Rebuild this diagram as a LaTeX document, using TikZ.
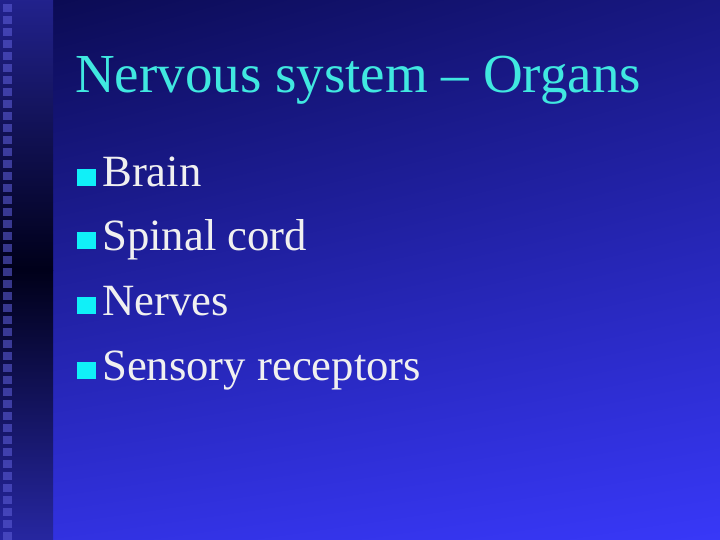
\documentclass[tikz,border=0pt]{standalone}
\usepackage{fontspec}
\usetikzlibrary{shadings}
\setmainfont{Liberation Serif}
\definecolor{bgA}{HTML}{0A0A50}
\definecolor{bgB}{HTML}{3838F8}
\definecolor{titlec}{HTML}{40E8E0}
\definecolor{bulc}{HTML}{10F0F8}
\definecolor{txtc}{HTML}{F0F0F0}
\definecolor{sqc}{HTML}{3030C8}
\tikzset{bul/.style={anchor=base west,text=txtc,font=\fontsize{44.7}{48}\selectfont,inner sep=0pt},
 sq/.style={fill=bulc,draw=none}}
\begin{document}
\begin{tikzpicture}[x=1pt,y=-1pt]
\useasboundingbox (0,0) rectangle (720,540);
\shade[lower left=bgB!85!bgA, upper left=bgA, upper right=bgA!70!bgB, lower right=bgB] (0,0) rectangle (720,540);
\shade[top color=sqc!70!black, bottom color=black!90!blue] (0,0) rectangle (53,270);
\shade[top color=black!90!blue, bottom color=sqc!80!black] (0,270) rectangle (53,540);
\foreach \i in {0,...,44} {\fill[sqc!80!white,opacity=0.6] (3,{4+\i*12}) rectangle (12,{12+\i*12});}
\node[anchor=base west,text=titlec,font=\fontsize{55}{58}\selectfont,inner sep=0pt] (t) at (75,93) {Nervous system – Organs};
\foreach \y/\t/\n in {187/Brain/a,250/Spinal cord/b,315/Nerves/c,380/Sensory receptors/d} {
 \fill[sq] (77,{\y-18}) rectangle (96,{\y-1});
 \node[bul] (\n) at (102,\y) {\t};
}
\end{tikzpicture}
\end{document}
